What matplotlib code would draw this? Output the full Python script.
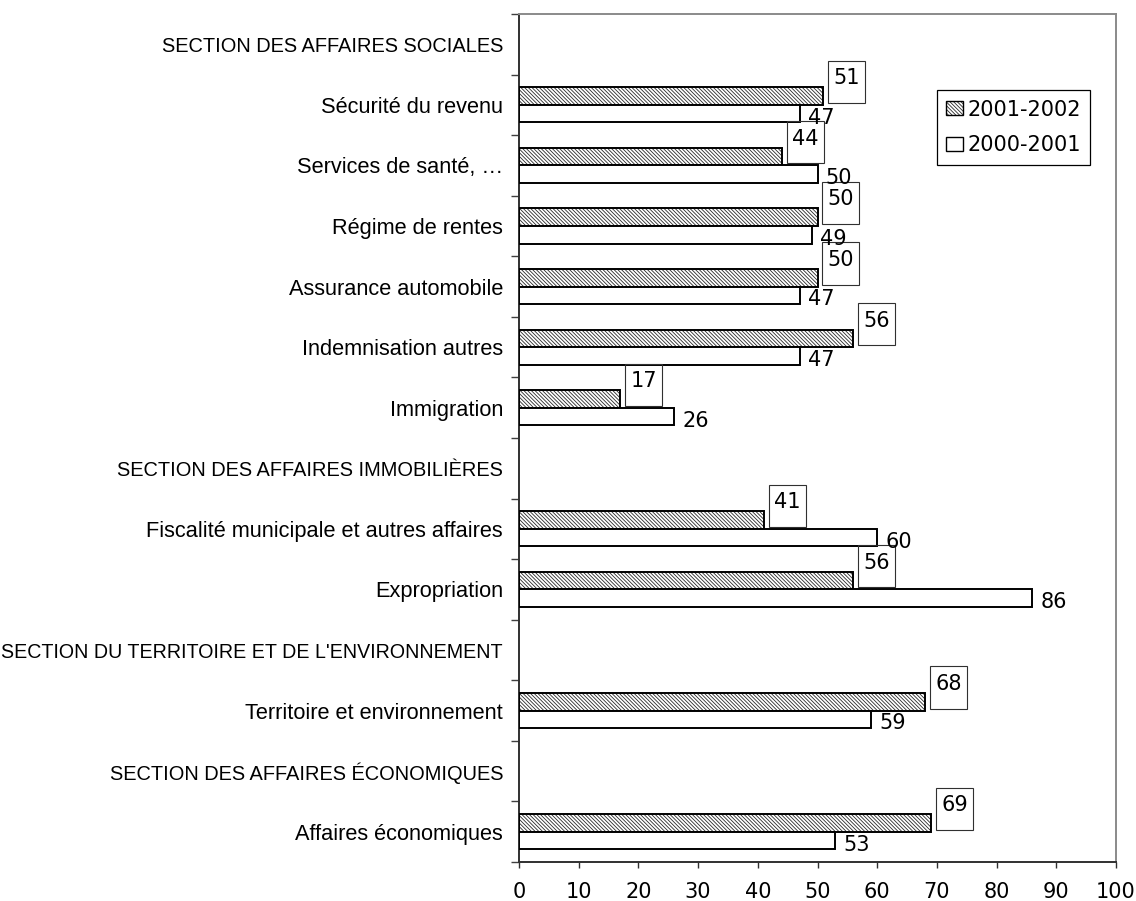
import matplotlib
matplotlib.use("Agg")
import matplotlib.pyplot as plt
import numpy as np
from matplotlib.path import Path
from matplotlib.patches import Patch
from matplotlib.legend_handler import HandlerTuple

# ---- data -------------------------------------------------------------
categories = [
    "SECTION DES AFFAIRES SOCIALES",
    "Sécurité du revenu",
    "Services de santé, …",
    "Régime de rentes",
    "Assurance automobile",
    "Indemnisation autres",
    "Immigration",
    "SECTION DES AFFAIRES IMMOBILIÈRES",
    "Fiscalité municipale et autres affaires",
    "Expropriation",
    "SECTION DU TERRITOIRE ET DE L'ENVIRONNEMENT",
    "Territoire et environnement",
    "SECTION DES AFFAIRES ÉCONOMIQUES",
    "Affaires économiques",
]
nan = np.nan
values_2001_2002 = [nan, 51, 44, 50, 50, 56, 17, nan, 41, 56, nan, 68, nan, 69]
values_2000_2001 = [nan, 47, 50, 49, 47, 47, 26, nan, 60, 86, nan, 59, nan, 53]
series_names = ["2001-2002", "2000-2001"]
x_ticks = list(range(0, 101, 10))

# ---- style ------------------------------------------------------------
TEXT_FONT = ["Liberation Sans", "DejaVu Sans"]
NUM_FONT = ["DejaVu Sans"]
plt.rcParams["font.family"] = TEXT_FONT
plt.rcParams["hatch.linewidth"] = 0.6
FS_CAT = 15.7
FS_HEAD = 14.4
FS_NUM = 15.0
HATCH = "\\" * 9
HATCH_COLOR = "#2a2a2a"
BAR_H = 0.29
MAX_LABEL_PX = 500  # widest a category label may be, in pixels


def label_box(x0, y0, width, height, mutation_size):
    """Rectangle around a value label, with more room below the text."""
    px = 0.25 * mutation_size
    top = 0.36 * mutation_size
    bot = 0.70 * mutation_size
    verts = [(x0 - px, y0 - bot), (x0 + width + px, y0 - bot),
             (x0 + width + px, y0 + height + top), (x0 - px, y0 + height + top),
             (x0 - px, y0 - bot)]
    return Path(verts, closed=True)


fig = plt.figure(figsize=(11.36, 9.01), dpi=100)
ax = fig.add_axes([519 / 1136, 1 - 862 / 901, 597 / 1136, 848 / 901])

y = np.arange(len(categories))
v_new = np.array(values_2001_2002, dtype=float)
v_old = np.array(values_2000_2001, dtype=float)
has = ~np.isnan(v_new)

# hatched series: hatch fill first, then a black outline
ax.barh(y[has] - BAR_H / 2, v_new[has], height=BAR_H, color="white",
        edgecolor=HATCH_COLOR, hatch=HATCH, linewidth=0, zorder=2)
ax.barh(y[has] - BAR_H / 2, v_new[has], height=BAR_H, fill=False,
        edgecolor="black", linewidth=1.4, zorder=3)
# plain series
ax.barh(y[has] + BAR_H / 2, v_old[has], height=BAR_H, color="white",
        edgecolor="black", linewidth=1.4, zorder=3)

# value labels
for yi, v in zip(y[has], v_new[has]):
    ax.annotate(f"{v:g}", xy=(v, yi - BAR_H / 2), xytext=(7.3, 8.5),
                textcoords="offset points", ha="left", va="baseline",
                fontsize=FS_NUM, family=NUM_FONT, zorder=4,
                bbox=dict(boxstyle=label_box, facecolor="none",
                          edgecolor="#303030", linewidth=0.8))
for yi, v in zip(y[has], v_old[has]):
    ax.annotate(f"{v:g}", xy=(v, yi + BAR_H / 2), xytext=(5.8, -2.9),
                textcoords="offset points", ha="left", va="center",
                fontsize=FS_NUM, family=NUM_FONT, zorder=4)

# axes
ax.set_xlim(0, 100)
ax.set_ylim(len(categories) - 0.5, -0.5)
ax.set_xticks(x_ticks)
ax.set_xticklabels([str(t) for t in x_ticks], fontsize=FS_NUM, family=NUM_FONT)
ax.tick_params(axis="x", direction="out", length=4.5, width=1.0,
               color="#303030", pad=10)

ax.set_yticks(y)
ax.set_yticklabels(categories)
ax.set_yticks(np.arange(len(categories) + 1) - 0.5, minor=True)
ax.tick_params(axis="y", which="major", length=0, pad=11.5)
ax.tick_params(axis="y", which="minor", direction="out", length=5.8,
               width=1.0, color="#404040")

# section headers are set a little smaller; shrink any label too wide to fit
renderer = fig.canvas.get_renderer()
for lab in ax.get_yticklabels():
    size = FS_HEAD if lab.get_text().startswith("SECTION") else FS_CAT
    lab.set_fontsize(size)
    w = lab.get_window_extent(renderer).width
    if w > MAX_LABEL_PX:
        lab.set_fontsize(size * MAX_LABEL_PX / w)

for side in ("left", "bottom"):
    ax.spines[side].set_color("#303030")
    ax.spines[side].set_linewidth(1.4)
for side in ("top", "right"):
    ax.spines[side].set_color("#8a8a8a")
    ax.spines[side].set_linewidth(1.4)

# legend
h_new = (Patch(facecolor="white", edgecolor=HATCH_COLOR, hatch=HATCH, linewidth=0),
         Patch(fill=False, edgecolor="black", linewidth=1.0))
h_old = Patch(facecolor="white", edgecolor="black", linewidth=1.0)
leg = ax.legend([h_new, h_old], series_names,
                handler_map={tuple: HandlerTuple(ndivide=1)},
                loc="upper left", bbox_to_anchor=(0.700, 0.910),
                borderaxespad=0, prop={"family": NUM_FONT, "size": FS_NUM},
                fancybox=False, shadow=False, framealpha=1, edgecolor="black",
                handlelength=0.8, handleheight=0.65, handletextpad=0.2,
                labelspacing=0.75, borderpad=0.45)
leg.get_frame().set_linewidth(0.9)

fig.savefig("out.png", dpi=100)
